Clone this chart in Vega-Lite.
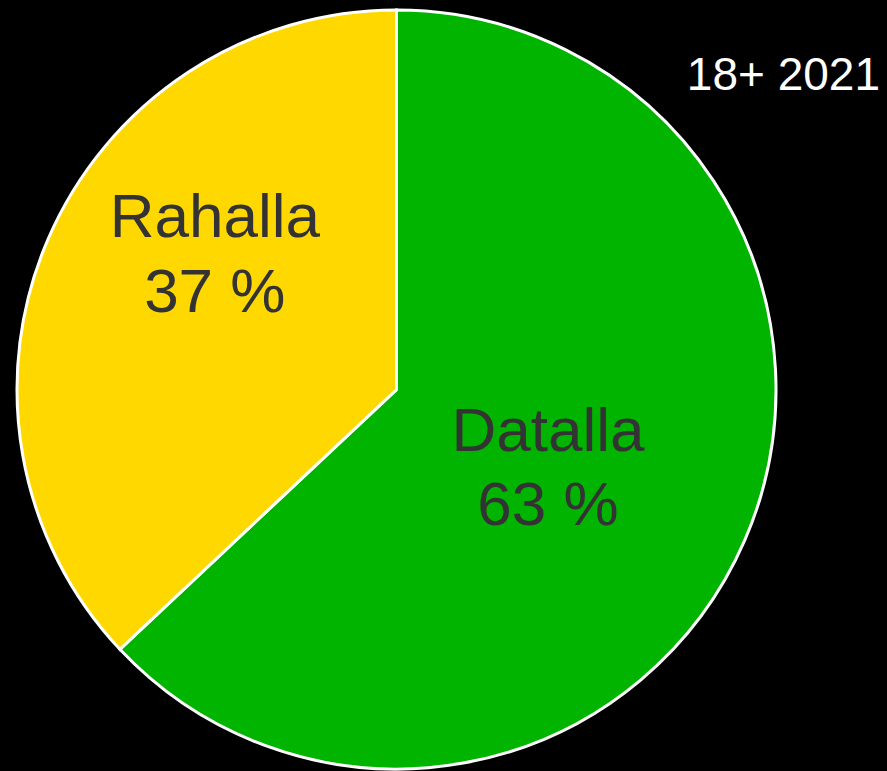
{
  "$schema": "https://vega.github.io/schema/vega-lite/v6.json",
  "autosize": "none",
  "width": 793,
  "height": 763,
  "padding": {"left": 0, "top": 8, "right": 94, "bottom": 0},
  "background": "#000000",
  "config": {"view": {"stroke": null}, "font": "Liberation Sans"},
  "title": {
    "text": "18+ 2021",
    "color": "#ffffff",
    "fontSize": 46,
    "fontWeight": "normal",
    "font": "Liberation Sans",
    "anchor": "end",
    "frame": "group",
    "baseline": "alphabetic",
    "offset": 0,
    "dx": 87,
    "dy": 132
  },
  "data": {
    "values": [
      {"cat": "Datalla", "value": 63, "label": ["Datalla", "63 %"]},
      {"cat": "Rahalla", "value": 37, "label": ["Rahalla", "37 %"]}
    ]
  },
  "encoding": {
    "theta": {"field": "value", "type": "quantitative", "stack": true},
    "order": {"field": "cat", "sort": "ascending"}
  },
  "layer": [
    {
      "mark": {"type": "arc", "radius": 379.5, "stroke": "#ffffff", "strokeWidth": 3},
      "encoding": {
        "color": {
          "field": "cat",
          "type": "nominal",
          "scale": {"domain": ["Datalla", "Rahalla"], "range": ["#00B400", "#FFD800"]},
          "legend": null
        }
      }
    },
    {
      "mark": {"type": "text", "radius": 165, "fontSize": 62, "lineHeight": 74, "baseline": "alphabetic", "align": "center", "color": "#333333", "dy": -4},
      "encoding": {
        "text": {"condition": {"test": "datum.cat === 'Datalla'", "field": "label"}, "value": ""}
      }
    },
    {
      "mark": {"type": "text", "radius": 198, "fontSize": 62, "lineHeight": 75, "baseline": "alphabetic", "align": "center", "color": "#333333", "dy": -74},
      "encoding": {
        "text": {"condition": {"test": "datum.cat === 'Rahalla'", "field": "label"}, "value": ""}
      }
    }
  ]
}
